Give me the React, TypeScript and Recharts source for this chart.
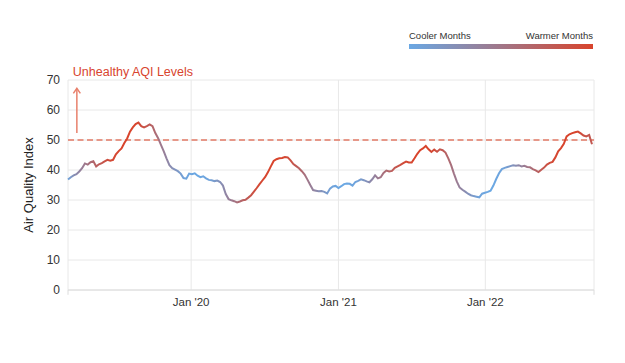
import { LineChart, Line, XAxis, YAxis, CartesianGrid, ReferenceLine } from "recharts"

const FONT = '"Liberation Sans", Arial, Helvetica, sans-serif'
const DAY = 86400000

// weekly readings, starting 1 Mar 2019
const startDate = Date.UTC(2019, 2, 1)
const endDate = Date.UTC(2022, 8, 28)

const weeklyAqi = [
  36.8, 37.6, 38.2, 38.6, 39.5, 40.6, 42.2, 41.8, 42.6, 42.9,
  41.2, 41.9, 42.3, 42.9, 43.4, 43.1, 43.4, 45.2, 46.3, 47.2,
  49.0, 50.5, 52.8, 54.2, 55.3, 55.8, 54.6, 54.2, 54.6, 55.2,
  54.6, 52.3, 50.6, 48.4, 46.2, 43.8, 41.6, 40.6, 40.1, 39.6,
  38.8, 37.3, 37.1, 38.8, 38.6, 38.9, 38.1, 37.6, 37.9, 37.2,
  36.7, 36.6, 36.3, 36.5, 36.0, 34.8, 32.0, 30.3, 29.9, 29.6,
  29.2, 29.5, 29.9, 30.1, 30.8, 31.6, 32.8, 34.0, 35.3, 36.5,
  37.7, 39.3, 41.2, 43.0, 43.6, 43.9, 44.0, 44.3, 44.2, 43.2,
  42.0, 41.3, 40.6, 39.6, 38.5, 36.8, 35.0, 33.3, 33.1, 32.9,
  33.0, 32.7, 32.2, 33.8, 34.5, 34.7, 34.0, 34.6, 35.3, 35.5,
  35.4, 34.8, 36.0, 36.4, 36.9, 36.6, 36.2, 35.9, 36.9, 38.2,
  37.2, 37.6, 39.0, 39.8, 39.5, 39.7, 40.7, 41.2, 41.7, 42.3,
  42.8, 42.5, 42.5, 43.9, 45.4, 46.6, 47.2, 48.0, 46.9, 46.0,
  46.8, 46.1, 46.9, 46.6, 45.8, 43.9, 41.6, 38.8, 36.2, 34.2,
  33.4, 32.8, 32.1, 31.6, 31.3, 31.1, 30.9, 32.1, 32.4, 32.7,
  33.1, 34.8, 37.0, 38.9, 40.3, 40.7, 41.0, 41.3, 41.6, 41.4,
  41.6, 41.2, 41.4, 41.0, 40.9, 40.3, 39.9, 39.3, 40.1, 40.8,
  41.8, 42.4, 42.7, 44.2, 46.2, 47.3, 48.7, 51.2, 51.9, 52.3,
  52.6, 52.8, 52.2, 51.5, 51.2, 51.7, 48.6,
]

const weekDates = weeklyAqi.map((_, i) => startDate + i * 7 * DAY)

const yearTicks = [Date.UTC(2020, 0, 1), Date.UTC(2021, 0, 1), Date.UTC(2022, 0, 1)]
const yTicks = [0, 10, 20, 30, 40, 50, 60, 70]
const unhealthyLevel = 50

// how warm each month is, Jan..Dec (0 = coolest, 1 = warmest)
const monthWarmth = [0, 0.05, 0.25, 0.5, 0.75, 0.95, 1, 1, 0.8, 0.5, 0.25, 0.05]

const COOL = [106, 168, 228]
const WARM = [216, 68, 44]

const mix = (w: number) => {
  const c = COOL.map((v, i) => Math.round(v + (WARM[i] - v) * w))
  return `rgb(${c[0]},${c[1]},${c[2]})`
}

const data = weeklyAqi.map((aqi, i) => ({ t: weekDates[i], aqi }))

// gradient stops in the middle of each month, along the line's width
const firstT = weekDates[0]
const lastT = weekDates[weekDates.length - 1]
const gradientStops: { offset: number; color: string }[] = []
for (let y = 2019; y <= 2022; y++) {
  for (let m = 0; m < 12; m++) {
    const t = Date.UTC(y, m, 15)
    if (t < firstT - 20 * DAY || t > lastT + 20 * DAY) continue
    const offset = Math.min(1, Math.max(0, (t - firstT) / (lastT - firstT)))
    gradientStops.push({ offset, color: mix(monthWarmth[m]) })
  }
}

const formatTick = (t: number) => {
  const d = new Date(t)
  return `Jan '${String(d.getUTCFullYear()).slice(2)}`
}

const ArrowShape = (props: any) => {
  const { x1, y1, x2, y2 } = props
  return (
    <g>
      <line x1={x1} y1={y1} x2={x2} y2={y2} stroke="#e8806c" strokeWidth={1.5} />
      <path
        d={`M${x2 - 3.5},${y2 + 5} L${x2},${y2} L${x2 + 3.5},${y2 + 5}`}
        fill="none"
        stroke="#e8806c"
        strokeWidth={1.5}
      />
      <text x={x2 - 4} y={y2 - 12} fill="#d8442e" fontSize={12.5} fontFamily={FONT}>
        Unhealthy AQI Levels
      </text>
    </g>
  )
}

const AxisTitle = (props: any) => {
  const vb = props.viewBox || { x: 0, y: 72, width: 60, height: 210 }
  const cx = vb.x + 25
  const cy = vb.y + vb.height / 2
  return (
    <text
      x={cx}
      y={cy}
      transform={`rotate(-90, ${cx}, ${cy})`}
      textAnchor="middle"
      fill="#222"
      fontSize={13}
      fontFamily={FONT}
    >
      Air Quality Index
    </text>
  )
}

export default function App() {
  return (
    <div style={{ position: "relative", width: 609, height: 347, fontFamily: FONT }}>
      <LineChart
        width={609}
        height={347}
        data={data}
        margin={{ top: 72, right: 23, bottom: 35, left: 0 }}
      >
        <defs>
          <linearGradient id="seasonGradient" x1="0" y1="0" x2="1" y2="0">
            {gradientStops.map((s, i) => (
              <stop key={i} offset={s.offset} stopColor={s.color} />
            ))}
          </linearGradient>
        </defs>
        <CartesianGrid stroke="#e8e8e8" />
        <XAxis
          dataKey="t"
          type="number"
          domain={[startDate, endDate]}
          ticks={yearTicks}
          tickFormatter={formatTick}
          axisLine={{ stroke: "#dcdcdc" }}
          tickLine={false}
          tick={{ fill: "#333", fontSize: 11.5, fontFamily: FONT }}
        />
        <YAxis
          domain={[0, 70]}
          ticks={yTicks}
          width={60}
          axisLine={false}
          tickLine={false}
          tick={{ fill: "#333", fontSize: 12, fontFamily: FONT }}
          label={AxisTitle}
        />
        <ReferenceLine
          y={unhealthyLevel}
          stroke="#e27a66"
          strokeDasharray="6 3.5"
          strokeWidth={1.5}
        />
        <ReferenceLine
          segment={[
            { x: startDate + 22 * DAY, y: 52.3 },
            { x: startDate + 22 * DAY, y: 67.2 },
          ]}
          shape={ArrowShape}
        />
        <ReferenceLine
          segment={[{ x: startDate, y: 0 }, { x: startDate, y: -1.6 }]}
          ifOverflow="visible"
          stroke="#dcdcdc"
        />
        <ReferenceLine
          segment={[{ x: endDate, y: 0 }, { x: endDate, y: -1.6 }]}
          ifOverflow="visible"
          stroke="#dcdcdc"
        />
        <Line
          dataKey="aqi"
          type="linear"
          stroke="url(#seasonGradient)"
          strokeWidth={2}
          dot={false}
          isAnimationActive={false}
        />
      </LineChart>
      <div
        style={{
          position: "absolute",
          left: 401,
          top: 22,
          width: 184,
          fontSize: 9.5,
          color: "#333",
          lineHeight: "11px",
        }}
      >
        <div style={{ display: "flex", justifyContent: "space-between" }}>
          <span>Cooler Months</span>
          <span>Warmer Months</span>
        </div>
        <div
          style={{
            marginTop: 3,
            height: 4.5,
            background: `linear-gradient(to right, ${mix(0)}, ${mix(1)})`,
          }}
        />
      </div>
    </div>
  )
}
